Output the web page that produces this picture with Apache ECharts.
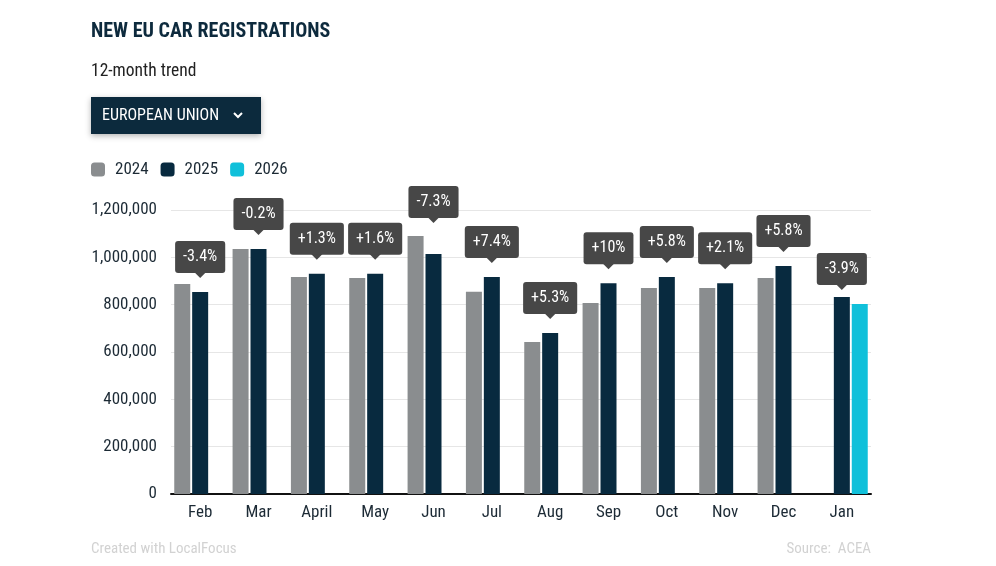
<!DOCTYPE html>
<html>
<head>
<meta charset="utf-8">
<script src="https://cdn.jsdelivr.net/npm/echarts@6/dist/echarts.min.js"></script>
<style>
  html, body { margin: 0; padding: 0; background: #fff; }
  #main { width: 996px; height: 566px; }
</style>
</head>
<body>
<div id="main"></div>
<script>
  var FONT = "'Roboto Condensed', 'Liberation Sans Narrow', 'DejaVu Sans Condensed', Roboto, sans-serif";

  // data
  var months = ['Feb', 'Mar', 'April', 'May', 'Jun', 'Jul', 'Aug', 'Sep', 'Oct', 'Nov', 'Dec', 'Jan'];
  var y2024 = [887000, 1035000, 917000, 913000, 1090000, 855000, 642000, 807000, 870000, 870000, 913000, null];
  var y2025 = [853000, 1035000, 931000, 931000, 1014000, 917000, 680000, 891000, 917000, 891000, 963000, 832000];
  var y2026 = [null, null, null, null, null, null, null, null, null, null, null, 803000];
  var changes = ['-3.4%', '-0.2%', '+1.3%', '+1.6%', '-7.3%', '+7.4%', '+5.3%', '+10%', '+5.8%', '+2.1%', '+5.8%', '-3.9%'];
  var yTicks = [0, 200000, 400000, 600000, 800000, 1000000, 1200000];

  var chart = echarts.init(document.getElementById('main'));

  function vals(i) {
    return [y2024[i], y2025[i], y2026[i]];
  }

  // change labels: sit above the latest year's bar, pushed up if the other bar is higher
  function renderLabel(params, api) {
    var i = api.value(0);
    var v = vals(i).filter(function (d) { return d != null; });
    var cur = v[v.length - 1];
    var max = Math.max.apply(null, v);
    var x = api.coord([i, 0])[0];
    var curY = api.coord([i, cur])[1];
    var maxY = api.coord([i, max])[1];
    var tip = curY - 14;
    if (maxY < tip + 2) tip = maxY - 13;
    return {
      type: 'group',
      children: [{
        type: 'polygon',
        shape: { points: [[x - 6, tip - 6], [x + 6, tip - 6], [x, tip]] },
        style: { fill: '#474747' }
      }, {
        type: 'text',
        x: x,
        y: tip - 5,
        style: {
          text: changes[i],
          fill: '#fff',
          font: '16px ' + FONT,
          align: 'center',
          verticalAlign: 'bottom',
          backgroundColor: '#474747',
          borderRadius: 3,
          padding: [7, 8, 7, 8],
          lineHeight: 18
        }
      }]
    };
  }

  var barBase = {
    type: 'bar',
    barWidth: 16,
    barGap: '12%',
    emphasis: { disabled: true }
  };

  var option = {
    animation: false,
    textStyle: { fontFamily: FONT },
    title: [{
      text: 'NEW EU CAR REGISTRATIONS',
      left: 86,
      top: 17,
      textStyle: { fontSize: 20, fontWeight: 'bold', color: '#0d2a3d', fontFamily: FONT }
    }, {
      text: '12-month trend',
      left: 86,
      top: 58,
      textStyle: { fontSize: 17.5, fontWeight: 'normal', color: '#222', fontFamily: FONT }
    }],
    legend: {
      left: 86,
      top: 156,
      icon: 'roundRect',
      itemWidth: 14,
      itemHeight: 14,
      itemGap: 12,
      data: ['2024', '2025', '2026'],
      textStyle: { fontSize: 17, color: '#1c2a35', fontFamily: FONT, padding: [0, 0, 0, 5] }
    },
    graphic: [{
      type: 'group',
      left: 91,
      top: 97,
      children: [{
        type: 'rect',
        shape: { x: 0, y: 0, width: 170, height: 37 },
        style: { fill: '#0c2a3d', shadowBlur: 6, shadowOffsetY: 2, shadowColor: 'rgba(0,0,0,0.3)' }
      }, {
        type: 'text',
        x: 11,
        y: 19,
        style: { text: 'EUROPEAN UNION', fill: '#fff', font: '16px ' + FONT, verticalAlign: 'middle' }
      }, {
        type: 'polyline',
        shape: { points: [[143, 16], [147, 20], [151, 16]] },
        style: { stroke: '#fff', lineWidth: 2, fill: null }
      }]
    }, {
      type: 'text',
      left: 91,
      top: 542,
      style: { text: 'Created with LocalFocus', fill: '#d2d2d2', font: '15px ' + FONT }
    }, {
      type: 'text',
      right: 125,
      top: 542,
      style: { text: 'Source:  ACEA', fill: '#d2d2d2', font: '15px ' + FONT }
    }],
    grid: { left: 171, right: 125, top: 210, bottom: 72, containLabel: false },
    xAxis: {
      type: 'category',
      data: months,
      axisLine: { lineStyle: { color: '#111', width: 2 } },
      axisTick: { show: false },
      axisLabel: { fontSize: 17, color: '#1c2a35', margin: 10, fontFamily: FONT }
    },
    yAxis: {
      type: 'value',
      min: yTicks[0],
      max: yTicks[yTicks.length - 1],
      interval: yTicks[1] - yTicks[0],
      axisLine: { show: false },
      axisTick: { show: false },
      splitLine: { lineStyle: { color: '#e6e6e6', width: 1 } },
      axisLabel: {
        fontSize: 17,
        color: '#1c2a35',
        margin: 14,
        fontFamily: FONT,
        formatter: function (v) { return v.toLocaleString('en-US'); }
      }
    },
    series: [
      Object.assign({}, barBase, { name: '2024', data: y2024, itemStyle: { color: '#8a8d8f' } }),
      Object.assign({}, barBase, { name: '2025', data: y2025, itemStyle: { color: '#082a3f' } }),
      Object.assign({}, barBase, { name: '2026', data: y2026, itemStyle: { color: '#10c0da' } }),
      {
        type: 'custom',
        name: 'change',
        renderItem: renderLabel,
        data: months.map(function (m, i) { return [i, Math.max.apply(null, vals(i).filter(function (d) { return d != null; }))]; }),
        encode: { x: 0, y: 1 },
        silent: true,
        z: 5
      }
    ]
  };

  chart.setOption(option);
</script>
</body>
</html>
